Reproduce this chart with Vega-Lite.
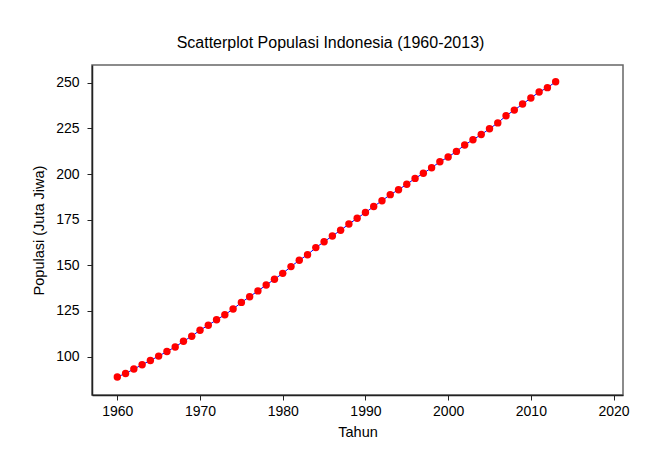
{
  "$schema": "https://vega.github.io/schema/vega-lite/v6.json",
  "width": 531,
  "height": 330,
  "autosize": {"type": "none"},
  "padding": {"left": 92, "top": 65, "right": 24, "bottom": 62},
  "background": "white",
  "title": {
    "text": "Scatterplot Populasi Indonesia (1960-2013)",
    "font": "Liberation Sans",
    "fontSize": 16,
    "fontWeight": "normal",
    "color": "black",
    "anchor": "middle",
    "dx": -27,
    "offset": 14
  },
  "config": {
    "view": {"stroke": "#666666", "strokeWidth": 1.5},
    "axis": {
      "labelFont": "Liberation Sans",
      "labelFontSize": 14,
      "labelColor": "black",
      "titleFont": "Liberation Sans",
      "titleFontSize": 14.5,
      "titleFontWeight": "normal",
      "titleColor": "black",
      "domainColor": "#222222",
      "domainWidth": 1.5,
      "tickColor": "#222222",
      "tickSize": 5,
      "grid": false
    }
  },
  "data": {
    "values": [
      {"Tahun": 1960, "Populasi": 88.9},
      {"Tahun": 1961, "Populasi": 90.8},
      {"Tahun": 1962, "Populasi": 93.2},
      {"Tahun": 1963, "Populasi": 95.6},
      {"Tahun": 1964, "Populasi": 97.9},
      {"Tahun": 1965, "Populasi": 100.3},
      {"Tahun": 1966, "Populasi": 102.8},
      {"Tahun": 1967, "Populasi": 105.3},
      {"Tahun": 1968, "Populasi": 108.4},
      {"Tahun": 1969, "Populasi": 111.2},
      {"Tahun": 1970, "Populasi": 114.5},
      {"Tahun": 1971, "Populasi": 117.2},
      {"Tahun": 1972, "Populasi": 120.2},
      {"Tahun": 1973, "Populasi": 122.9},
      {"Tahun": 1974, "Populasi": 126.1},
      {"Tahun": 1975, "Populasi": 129.7},
      {"Tahun": 1976, "Populasi": 132.8},
      {"Tahun": 1977, "Populasi": 136.0},
      {"Tahun": 1978, "Populasi": 139.2},
      {"Tahun": 1979, "Populasi": 142.4},
      {"Tahun": 1980, "Populasi": 145.6},
      {"Tahun": 1981, "Populasi": 149.3},
      {"Tahun": 1982, "Populasi": 152.8},
      {"Tahun": 1983, "Populasi": 155.8},
      {"Tahun": 1984, "Populasi": 159.7},
      {"Tahun": 1985, "Populasi": 162.9},
      {"Tahun": 1986, "Populasi": 166.1},
      {"Tahun": 1987, "Populasi": 169.2},
      {"Tahun": 1988, "Populasi": 172.6},
      {"Tahun": 1989, "Populasi": 175.8},
      {"Tahun": 1990, "Populasi": 178.9},
      {"Tahun": 1991, "Populasi": 182.2},
      {"Tahun": 1992, "Populasi": 185.4},
      {"Tahun": 1993, "Populasi": 188.7},
      {"Tahun": 1994, "Populasi": 191.4},
      {"Tahun": 1995, "Populasi": 194.4},
      {"Tahun": 1996, "Populasi": 197.6},
      {"Tahun": 1997, "Populasi": 200.4},
      {"Tahun": 1998, "Populasi": 203.4},
      {"Tahun": 1999, "Populasi": 206.7},
      {"Tahun": 2000, "Populasi": 209.3},
      {"Tahun": 2001, "Populasi": 212.4},
      {"Tahun": 2002, "Populasi": 215.9},
      {"Tahun": 2003, "Populasi": 218.8},
      {"Tahun": 2004, "Populasi": 221.6},
      {"Tahun": 2005, "Populasi": 224.8},
      {"Tahun": 2006, "Populasi": 228.0},
      {"Tahun": 2007, "Populasi": 231.9},
      {"Tahun": 2008, "Populasi": 235.0},
      {"Tahun": 2009, "Populasi": 238.3},
      {"Tahun": 2010, "Populasi": 241.6},
      {"Tahun": 2011, "Populasi": 244.9},
      {"Tahun": 2012, "Populasi": 247.3},
      {"Tahun": 2013, "Populasi": 250.5}
    ]
  },
  "encoding": {
    "x": {
      "field": "Tahun",
      "type": "quantitative",
      "scale": {"domain": [1956.94, 2021.14], "nice": false, "zero": false},
      "axis": {"values": [1960, 1970, 1980, 1990, 2000, 2010, 2020], "format": "d", "title": "Tahun", "labelPadding": 4, "titlePadding": 7}
    },
    "y": {
      "field": "Populasi",
      "type": "quantitative",
      "scale": {"domain": [79, 259.7], "nice": false, "zero": false},
      "axis": {"values": [100, 125, 150, 175, 200, 225, 250], "title": "Populasi (Juta Jiwa)", "labelPadding": 8, "titlePadding": 9}
    }
  },
  "layer": [
    {"mark": {"type": "line", "color": "#0000ff", "strokeWidth": 1}},
    {"mark": {"type": "circle", "color": "#ff0000", "opacity": 1, "size": 55}}
  ]
}
